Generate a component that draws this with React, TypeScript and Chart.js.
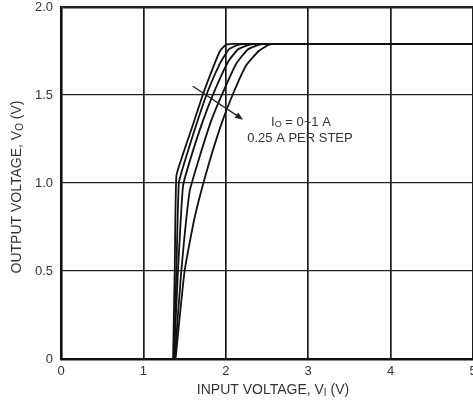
import React, { useEffect, useRef } from "react";
import { Chart, registerables } from "chart.js";
Chart.register(...registerables);

// Axis ticks
const xTickValues = [0, 1, 2, 3, 4, 5];
const yTickValues = [0, 0.5, 1.0, 1.5, 2.0];

// Output voltage vs input voltage, IO = 0 ~ 1 A, 0.25 A per step
const io000Vin = [1.36, 1.38, 1.40, 1.47, 1.60, 1.72, 1.84, 1.93, 2.00, 2.10, 5.0];
const io000Vout = [0.0, 0.5, 1.04, 1.15, 1.33, 1.50, 1.65, 1.75, 1.785, 1.79, 1.79];

const io025Vin = [1.37, 1.40, 1.43, 1.48, 1.62, 1.78, 1.93, 2.04, 2.15, 2.30, 5.0];
const io025Vout = [0.0, 0.5, 1.0, 1.09, 1.30, 1.52, 1.68, 1.76, 1.785, 1.79, 1.79];

const io050Vin = [1.37, 1.42, 1.48, 1.56, 1.72, 1.87, 2.03, 2.15, 2.28, 2.40, 5.0];
const io050Vout = [0.0, 0.5, 0.98, 1.12, 1.35, 1.53, 1.69, 1.76, 1.785, 1.79, 1.79];

const io075Vin = [1.38, 1.46, 1.56, 1.65, 1.82, 1.98, 2.13, 2.27, 2.40, 2.50, 5.0];
const io075Vout = [0.0, 0.5, 0.95, 1.10, 1.35, 1.53, 1.68, 1.76, 1.785, 1.79, 1.79];

const io100Vin = [1.39, 1.50, 1.62, 1.77, 1.95, 2.10, 2.25, 2.40, 2.52, 2.65, 5.0];
const io100Vout = [0.0, 0.5, 0.80, 1.07, 1.34, 1.52, 1.67, 1.75, 1.785, 1.79, 1.79];

const seriesLabels = ["IO = 0 A", "IO = 0.25 A", "IO = 0.5 A", "IO = 0.75 A", "IO = 1 A"];
const seriesX = [io000Vin, io025Vin, io050Vin, io075Vin, io100Vin];
const seriesY = [io000Vout, io025Vout, io050Vout, io075Vout, io100Vout];

// Annotation arrow (data coordinates)
const arrowFrom = [1.6, 1.55];
const arrowTo = [2.21, 1.36];

const FONT = '"Liberation Sans", Arial, Helvetica, sans-serif';
const TEXT_COLOR = "#333";

type Seg = { t: string; sub?: boolean };

function drawRich(ctx: CanvasRenderingContext2D, segs: Seg[], cx: number, cy: number, size: number) {
  const subSize = Math.round(size * 0.72);
  const widths = segs.map((s) => {
    ctx.font = `${s.sub ? subSize : size}px ${FONT}`;
    return ctx.measureText(s.t).width;
  });
  const total = widths.reduce((a, b) => a + b, 0);
  let x = cx - total / 2;
  ctx.textAlign = "left";
  ctx.textBaseline = "middle";
  segs.forEach((s, i) => {
    ctx.font = `${s.sub ? subSize : size}px ${FONT}`;
    ctx.fillText(s.t, x, s.sub ? cy + size * 0.22 : cy);
    x += widths[i];
  });
}

const overlayPlugin = {
  id: "overlay",
  afterDraw(chart: any) {
    const ctx: CanvasRenderingContext2D = chart.ctx;
    const xs = chart.scales.x;
    const ys = chart.scales.y;
    ctx.save();
    ctx.fillStyle = TEXT_COLOR;
    // x title
    drawRich(ctx, [{ t: "INPUT VOLTAGE, V" }, { t: "I", sub: true }, { t: " (V)" }], 273, 390, 14);
    // y title
    ctx.save();
    ctx.translate(17, 187);
    ctx.rotate(-Math.PI / 2);
    drawRich(ctx, [{ t: "OUTPUT VOLTAGE, V" }, { t: "O", sub: true }, { t: " (V)" }], 0, 0, 14);
    ctx.restore();

    // annotation text
    const tx = xs.getPixelForValue(2.9);
    drawRich(ctx, [{ t: "I" }, { t: "O", sub: true }, { t: " = 0~1 A" }], tx + 1, ys.getPixelForValue(1.347), 13);
    drawRich(ctx, [{ t: "0.25 A PER STEP" }], tx, ys.getPixelForValue(1.256), 13);

    // arrow
    const x1 = xs.getPixelForValue(arrowFrom[0]);
    const y1 = ys.getPixelForValue(arrowFrom[1]);
    const x2 = xs.getPixelForValue(arrowTo[0]);
    const y2 = ys.getPixelForValue(arrowTo[1]);
    const ang = Math.atan2(y2 - y1, x2 - x1);
    const hl = 8;
    const hw = 3.2;
    ctx.strokeStyle = "#222";
    ctx.fillStyle = "#222";
    ctx.lineWidth = 1.3;
    ctx.beginPath();
    ctx.moveTo(x1, y1);
    ctx.lineTo(x2 - hl * 0.8 * Math.cos(ang), y2 - hl * 0.8 * Math.sin(ang));
    ctx.stroke();
    ctx.beginPath();
    ctx.moveTo(x2, y2);
    ctx.lineTo(x2 - hl * Math.cos(ang) + hw * Math.sin(ang), y2 - hl * Math.sin(ang) - hw * Math.cos(ang));
    ctx.lineTo(x2 - hl * Math.cos(ang) - hw * Math.sin(ang), y2 - hl * Math.sin(ang) + hw * Math.cos(ang));
    ctx.closePath();
    ctx.fill();
    ctx.restore();
  },
};

export default function App() {
  const ref = useRef<HTMLCanvasElement | null>(null);
  useEffect(() => {
    if (!ref.current) return;
    const datasets = seriesLabels.map((label, i) => ({
      label,
      data: seriesX[i].map((x, j) => ({ x, y: seriesY[i][j] })),
      showLine: true,
      borderColor: "#111",
      borderWidth: 1.8,
      pointRadius: 0,
      tension: 0.15,
      fill: false,
    }));
    const chart = new Chart(ref.current, {
      type: "scatter",
      data: { datasets },
      options: {
        animation: false,
        responsive: false,
        events: [],
        layout: { padding: { top: 7, right: 17, left: 0, bottom: 0 } },
        plugins: { legend: { display: false }, tooltip: { enabled: false } },
        scales: {
          x: {
            type: "linear",
            min: 0,
            max: 5,
            afterFit: (s: any) => {
              s.height = 41;
              s.paddingLeft = 0;
              s.paddingRight = 0;
            },
            afterBuildTicks: (s: any) => {
              s.ticks = xTickValues.map((v) => ({ value: v }));
            },
            ticks: {
              padding: 5,
              color: TEXT_COLOR,
              font: { family: FONT, size: 13 },
              callback: (v: any) => String(v),
              maxRotation: 0,
            },
            grid: {
              drawTicks: false,
              color: "#1a1a1a",
              lineWidth: (c: any) => (c.tick && c.tick.value === 0 ? 0 : 1.7),
            },
            border: { display: true, color: "#111", width: 2.6 },
          },
          y: {
            type: "linear",
            min: 0,
            max: 2,
            afterFit: (s: any) => {
              s.width = 61;
              s.paddingTop = 0;
              s.paddingBottom = 0;
            },
            afterBuildTicks: (s: any) => {
              s.ticks = yTickValues.map((v) => ({ value: v }));
            },
            ticks: {
              padding: 8,
              color: TEXT_COLOR,
              font: { family: FONT, size: 13 },
              callback: (v: any) => (v === 0 ? "0" : Number(v).toFixed(1)),
            },
            grid: {
              drawTicks: false,
              color: "#222",
              lineWidth: (c: any) => (c.tick && c.tick.value === 2 ? 2.6 : c.tick && c.tick.value === 0 ? 0 : 1.2),
            },
            border: { display: true, color: "#111", width: 2.6 },
          },
        },
      },
      plugins: [overlayPlugin],
    });
    return () => chart.destroy();
  }, []);
  return (
    <div
      style={{
        position: "fixed",
        left: 0,
        top: 0,
        width: 473,
        height: 400,
        overflow: "hidden",
        background: "#fff",
      }}
    >
      <canvas ref={ref} width={490} height={400} style={{ display: "block" }} />
    </div>
  );
}
